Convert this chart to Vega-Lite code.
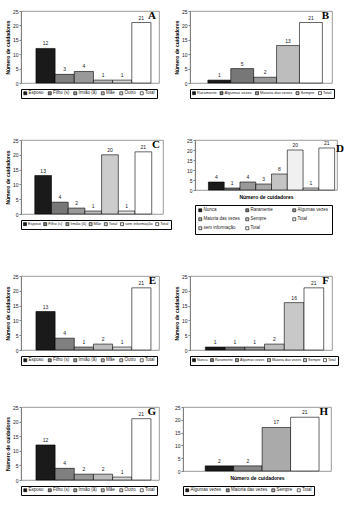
{
  "$schema": "https://vega.github.io/schema/vega-lite/v6.json",
  "padding": {"left": 5, "top": 8, "right": 5, "bottom": 5},
  "background": "white",
  "spacing": 38,
  "resolve": {"scale": {"color": "independent", "x": "independent"}, "legend": {"color": "independent"}},
  "datasets": {
    "A": [{"k":"Esposo","v":12},{"k":"Filho (s)","v":3},{"k":"Irmão (ã)","v":4},{"k":"Mãe","v":1},{"k":"Outro","v":1},{"k":"Total","v":21}],
    "B": [{"k":"Raramente","v":1},{"k":"Algumas vezes","v":5},{"k":"Maioria das vezes","v":2},{"k":"Sempre","v":13},{"k":"Total","v":21}],
    "C": [{"k":"Esposo","v":13},{"k":"Filho (s)","v":4},{"k":"Irmão (ã)","v":2},{"k":"Mãe","v":1},{"k":"Total","v":20},{"k":"sem informação","v":1},{"k":"Total ","v":21}],
    "D": [{"k":"Nunca","v":4},{"k":"Raramente","v":1},{"k":"Algumas vezes","v":4},{"k":"Maioria das vezes","v":3},{"k":"Sempre","v":8},{"k":"Total","v":20},{"k":"sem informação","v":1},{"k":"Total ","v":21}],
    "E": [{"k":"Esposo","v":13},{"k":"Filho (s)","v":4},{"k":"Irmão (ã)","v":1},{"k":"Mãe","v":2},{"k":"Outro","v":1},{"k":"Total","v":21}],
    "F": [{"k":"Nunca","v":1},{"k":"Raramente","v":1},{"k":"Algumas vezes","v":1},{"k":"Maioria das vezes","v":2},{"k":"Sempre","v":16},{"k":"Total","v":21}],
    "G": [{"k":"Esposo","v":12},{"k":"Filho (s)","v":4},{"k":"Irmão (ã)","v":2},{"k":"Mãe","v":2},{"k":"Outro","v":1},{"k":"Total","v":21}],
    "H": [{"k":"Algumas vezes","v":2},{"k":"Maioria das vezes","v":2},{"k":"Sempre","v":17},{"k":"Total","v":21}]
  },
  "vconcat": [
    {"spacing": 14, "resolve": {"scale": {"color": "independent", "x": "independent"}, "legend": {"color": "independent"}},
     "hconcat": [
      {"title": {"text": "A"}, "data": {"name": "A"}, "width": 138, "height": 72,
       "encoding": {"x": {"field": "k", "type": "nominal", "sort": null, "axis": null, "scale": {"paddingInner": 0, "paddingOuter": 0.6, "align": 0.65}},
                    "y": {"field": "v", "type": "quantitative", "scale": {"domain": [0, 25]}, "axis": {"values": [0,5,10,15,20,25], "title": "Número de cuidadores"}}},
       "layer": [
         {"mark": "bar", "encoding": {"color": {"field": "k", "type": "nominal", "sort": null, "scale": {"domain": ["Esposo","Filho (s)","Irmão (ã)","Mãe","Outro","Total"], "range": ["#1a1a1a","#808080","#999999","#bdbdbd","#d9d9d9","#ffffff"]}, "legend": {"title": null, "labelFontSize": 4.5, "columnPadding": 2.5}}}},
         {"mark": {"type": "text", "baseline": "bottom", "dy": -2}, "encoding": {"text": {"field": "v", "type": "quantitative"}}}
       ]},
      {"title": {"text": "B"}, "data": {"name": "B"}, "width": 142, "height": 72,
       "encoding": {"x": {"field": "k", "type": "nominal", "sort": null, "axis": null, "scale": {"paddingInner": 0, "paddingOuter": 0.6, "align": 0.65}},
                    "y": {"field": "v", "type": "quantitative", "scale": {"domain": [0, 25]}, "axis": {"values": [0,5,10,15,20,25], "title": "Número de cuidadores"}}},
       "layer": [
         {"mark": "bar", "encoding": {"color": {"field": "k", "type": "nominal", "sort": null, "scale": {"domain": ["Raramente","Algumas vezes","Maioria das vezes","Sempre","Total"], "range": ["#1a1a1a","#777777","#999999","#bdbdbd","#ffffff"]}, "legend": {"title": null}}}},
         {"mark": {"type": "text", "baseline": "bottom", "dy": -2}, "encoding": {"text": {"field": "v", "type": "quantitative"}}}
       ]}
    ]},
    {"spacing": 14, "resolve": {"scale": {"color": "independent", "x": "independent"}, "legend": {"color": "independent"}},
     "hconcat": [
      {"title": {"text": "C"}, "data": {"name": "C"}, "width": 142, "height": 74,
       "encoding": {"x": {"field": "k", "type": "nominal", "sort": null, "axis": null, "scale": {"paddingInner": 0, "paddingOuter": 0.75, "align": 0.55}},
                    "y": {"field": "v", "type": "quantitative", "scale": {"domain": [0, 25]}, "axis": {"values": [0,5,10,15,20,25], "title": "Número de cuidadores"}}},
       "layer": [
         {"mark": "bar", "encoding": {"color": {"field": "k", "type": "nominal", "sort": null, "scale": {"domain": ["Esposo","Filho (s)","Irmão (ã)","Mãe","Total","sem informação","Total "], "range": ["#1a1a1a","#777777","#999999","#bdbdbd","#cccccc","#e6e6e6","#ffffff"]}, "legend": {"title": null, "labelFontSize": 3.9, "columnPadding": 1.2}}}},
         {"mark": {"type": "text", "baseline": "bottom", "dy": -2}, "encoding": {"text": {"field": "v", "type": "quantitative"}}}
       ]},
      {"title": {"text": "D", "dx": 7, "dy": 20}, "data": {"name": "D"}, "width": 142, "height": 50,
       "encoding": {"x": {"field": "k", "type": "nominal", "sort": null, "axis": {"title": "Número de cuidadores", "labels": false, "ticks": false, "domain": false, "titlePadding": 4}, "scale": {"paddingInner": 0, "paddingOuter": 0.5, "align": 0.85}},
                    "y": {"field": "v", "type": "quantitative", "scale": {"domain": [0, 25]}, "axis": {"values": [0,5,10,15,20,25], "title": null}}},
       "layer": [
         {"mark": "bar", "encoding": {"color": {"field": "k", "type": "nominal", "sort": null, "scale": {"domain": ["Nunca","Raramente","Algumas vezes","Maioria das vezes","Sempre","Total","sem informação","Total "], "range": ["#1a1a1a","#777777","#999999","#aaaaaa","#c4c4c4","#f0f0f0","#dddddd","#ffffff"]}, "legend": {"title": null, "columns": 3, "columnPadding": 4, "rowPadding": 3, "padding": 3, "gridAlign": "all", "labelFontSize": 4.5}}}},
         {"mark": {"type": "text", "baseline": "bottom", "dy": -2}, "encoding": {"text": {"field": "v", "type": "quantitative"}}}
       ]}
    ]},
    {"spacing": 14, "resolve": {"scale": {"color": "independent", "x": "independent"}, "legend": {"color": "independent"}},
     "hconcat": [
      {"title": {"text": "E"}, "data": {"name": "E"}, "width": 138, "height": 74,
       "encoding": {"x": {"field": "k", "type": "nominal", "sort": null, "axis": null, "scale": {"paddingInner": 0, "paddingOuter": 0.6, "align": 0.65}},
                    "y": {"field": "v", "type": "quantitative", "scale": {"domain": [0, 25]}, "axis": {"values": [0,5,10,15,20,25], "title": "Número de cuidadores"}}},
       "layer": [
         {"mark": "bar", "encoding": {"color": {"field": "k", "type": "nominal", "sort": null, "scale": {"domain": ["Esposo","Filho (s)","Irmão (ã)","Mãe","Outro","Total"], "range": ["#1a1a1a","#808080","#999999","#bdbdbd","#d9d9d9","#ffffff"]}, "legend": {"title": null, "labelFontSize": 4.5, "columnPadding": 2.5}}}},
         {"mark": {"type": "text", "baseline": "bottom", "dy": -2}, "encoding": {"text": {"field": "v", "type": "quantitative"}}}
       ]},
      {"title": {"text": "F"}, "data": {"name": "F"}, "width": 142, "height": 74,
       "encoding": {"x": {"field": "k", "type": "nominal", "sort": null, "axis": null, "scale": {"paddingInner": 0, "paddingOuter": 0.6, "align": 0.65}},
                    "y": {"field": "v", "type": "quantitative", "scale": {"domain": [0, 25]}, "axis": {"values": [0,5,10,15,20,25], "title": "Número de cuidadores"}}},
       "layer": [
         {"mark": "bar", "encoding": {"color": {"field": "k", "type": "nominal", "sort": null, "scale": {"domain": ["Nunca","Raramente","Algumas vezes","Maioria das vezes","Sempre","Total"], "range": ["#1a1a1a","#777777","#999999","#bdbdbd","#c8c8c8","#ffffff"]}, "legend": {"title": null, "labelFontSize": 3.6, "columnPadding": 1}}}},
         {"mark": {"type": "text", "baseline": "bottom", "dy": -2}, "encoding": {"text": {"field": "v", "type": "quantitative"}}}
       ]}
    ]},
    {"spacing": 14, "resolve": {"scale": {"color": "independent", "x": "independent"}, "legend": {"color": "independent"}},
     "hconcat": [
      {"title": {"text": "G"}, "data": {"name": "G"}, "width": 138, "height": 73,
       "encoding": {"x": {"field": "k", "type": "nominal", "sort": null, "axis": null, "scale": {"paddingInner": 0, "paddingOuter": 0.6, "align": 0.65}},
                    "y": {"field": "v", "type": "quantitative", "scale": {"domain": [0, 25]}, "axis": {"values": [0,5,10,15,20,25], "title": "Número de cuidadores"}}},
       "layer": [
         {"mark": "bar", "encoding": {"color": {"field": "k", "type": "nominal", "sort": null, "scale": {"domain": ["Esposo","Filho (s)","Irmão (ã)","Mãe","Outro","Total"], "range": ["#1a1a1a","#808080","#999999","#bdbdbd","#d9d9d9","#ffffff"]}, "legend": {"title": null, "labelFontSize": 4.5, "columnPadding": 2.5}}}},
         {"mark": {"type": "text", "baseline": "bottom", "dy": -2}, "encoding": {"text": {"field": "v", "type": "quantitative"}}}
       ]},
      {"title": {"text": "H"}, "data": {"name": "H"}, "width": 148, "height": 64,
       "encoding": {"x": {"field": "k", "type": "nominal", "sort": null, "axis": {"title": "Número de cuidadores", "labels": false, "ticks": false, "domain": false, "titlePadding": 4}, "scale": {"paddingInner": 0, "paddingOuter": 0.6, "align": 0.65}},
                    "y": {"field": "v", "type": "quantitative", "scale": {"domain": [0, 25]}, "axis": {"values": [0,5,10,15,20,25], "title": null}}},
       "layer": [
         {"mark": "bar", "encoding": {"color": {"field": "k", "type": "nominal", "sort": null, "scale": {"domain": ["Algumas vezes","Maioria das vezes","Sempre","Total"], "range": ["#1a1a1a","#888888","#aaaaaa","#ffffff"]}, "legend": {"title": null, "labelFontSize": 4.5, "columnPadding": 2.5}}}},
         {"mark": {"type": "text", "baseline": "bottom", "dy": -2}, "encoding": {"text": {"field": "v", "type": "quantitative"}}}
       ]}
    ]}
  ],
  "config": {
    "font": "Liberation Sans",
    "view": {"stroke": "#808080", "strokeWidth": 0.8},
    "axis": {"grid": false, "labelFontSize": 5, "titleFontSize": 5, "titleFontWeight": "bold", "tickSize": 2, "labelPadding": 1, "titlePadding": 2, "domainColor": "#808080", "tickColor": "#808080", "labelColor": "#222222", "titleColor": "#000000"},
    "legend": {"orient": "bottom", "direction": "horizontal", "symbolType": "square", "symbolSize": 9, "symbolStrokeColor": "#000000", "symbolStrokeWidth": 0.5, "labelFontSize": 4, "labelOffset": 1, "columnPadding": 1.5, "strokeColor": "#000000", "padding": 2, "offset": 6, "labelColor": "#222222", "labelLimit": 0},
    "bar": {"stroke": "#000000", "strokeWidth": 0.6},
    "text": {"fontSize": 5, "color": "#222222"},
    "title": {"anchor": "end", "frame": "group", "font": "Liberation Serif", "fontSize": 11, "fontWeight": "bold", "dy": 16, "dx": -3, "offset": 0}
  }
}
